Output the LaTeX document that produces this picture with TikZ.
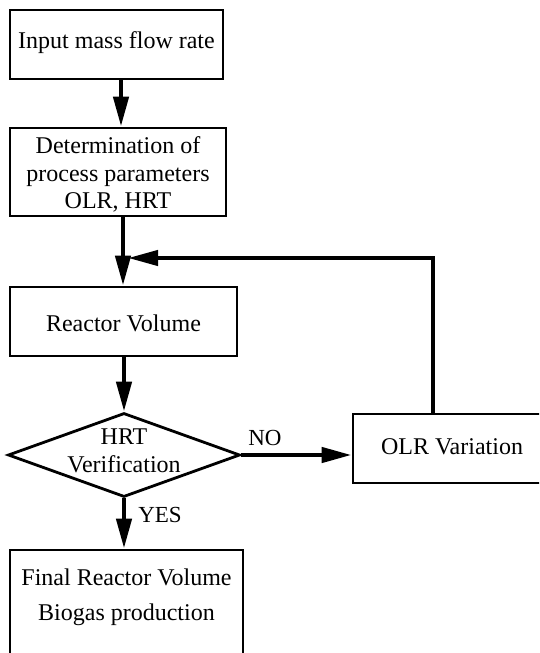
\documentclass[tikz,border=0pt]{standalone}
\usepackage{fontspec}
\setmainfont{Liberation Serif}
\usetikzlibrary{arrows.meta,shapes.geometric}
\tikzset{
  boxst/.style={draw, line width=2.8pt, rectangle, inner sep=0pt},
  txt/.style={font=\fontsize{24}{27.5}\selectfont, align=center, inner sep=0pt},
  lbl/.style={font=\fontsize{23}{27}\selectfont, inner sep=0pt},
  arr/.style={line width=4.5pt, -{Triangle[length=30pt,width=15pt]}},
}
\begin{document}
\begin{tikzpicture}[x=1pt,y=-1pt]
\useasboundingbox (0,0) rectangle (539,653);
\clip (0,0) rectangle (539,653);
\fill[white] (0,0) rectangle (539,653);
% boxes
\node[boxst, minimum width=213pt, minimum height=69pt] (b1) at (116.5,44.5) {};
\node[txt] (t1) at (116.5,43) {Input mass flow rate};
\node[boxst, minimum width=216pt, minimum height=88pt] (b2) at (118,172) {};
\node[txt] (t2) at (118,174.5) {Determination of\\process parameters\\OLR, HRT};
\node[boxst, minimum width=227pt, minimum height=69pt] (b3) at (123.5,321.5) {};
\node[txt] (t3) at (123.5,323) {Reactor Volume};
\node[draw, line width=2.8pt, diamond, aspect=2.76, minimum width=232pt, minimum height=84pt, inner sep=0pt] (dia) at (124,455) {};
\node[txt] (t4) at (124,451) {HRT\\Verification};
\node[boxst, minimum width=198pt, minimum height=69pt] (olr) at (452,448.5) {};
\node[txt] (t5) at (452,447) {OLR Variation};
\node[boxst, minimum width=233pt, minimum height=130pt] (fin) at (126.5,615) {};
\node[txt, font=\fontsize{24}{35}\selectfont] (t6) at (126.5,597) {Final Reactor Volume\\Biogas production};
% helper coordinates
\coordinate (c1) at (121,0);
\coordinate (c2) at (123,0);
\coordinate (fbx) at (433,0);
\coordinate (fbend) at (128,258);
% connectors
\draw[arr] (b1.south -| c1) -- (b2.north -| c1);
\draw[arr] (b2.south -| c2) -- (b3.north -| c2);
\draw[arr] (b3.south -| dia.north) -- (dia.north);
\draw[arr] (dia.east) -- (dia.east -| olr.west);
\draw[arr] (dia.south) -- (dia.south |- fin.north);
\draw[line width=4.2pt, -{Triangle[length=30pt,width=15pt]}] (olr.north -| fbx) |- (fbend);
% labels
\node[lbl] (no) at (265,438) {NO};
\node[lbl] (yes) at (160,515) {YES};
\end{tikzpicture}
\end{document}
